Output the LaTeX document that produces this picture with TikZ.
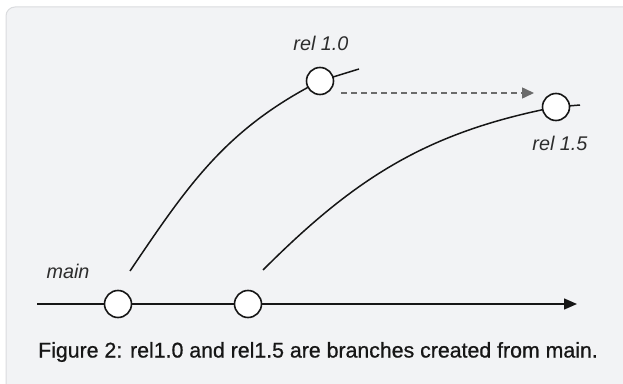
\documentclass[tikz,border=0pt]{standalone}
\usepackage{fontspec}
\setmainfont{Liberation Sans}
\newfontfamily\capfont[FakeBold=0.8]{Liberation Sans}
\usetikzlibrary{arrows.meta}
\definecolor{panelfill}{HTML}{F2F3F5}
\definecolor{panelline}{HTML}{DADBDE}
\definecolor{ink}{HTML}{161616}
\definecolor{dashgray}{HTML}{6B6B6B}
\begin{document}
\begin{tikzpicture}[x=1pt,y=1pt,
  commit/.style={circle,draw=ink,fill=white,line width=1.6pt,minimum size=27pt,inner sep=0pt},
  branchline/.style={draw=ink,line width=1.5pt},
  lbl/.style={font=\fontsize{19.8}{22}\selectfont\itshape,text=ink!90},
  caption/.style={font=\capfont\fontsize{21.3}{24}\selectfont,text=ink}]
\useasboundingbox (0,0) rectangle (623,383);
\path[fill=panelfill,draw=panelline,line width=1pt,rounded corners=9pt] (6,-10) rectangle (640,376);
% coordinates
\coordinate (ms) at (37,79);
\coordinate (me) at (577,79);
\coordinate (b1) at (130,112);
\coordinate (b2) at (263,113);
\coordinate (t1) at (359,314);
\coordinate (t2) at (580,278);
% main line
\draw[branchline,-{Triangle[length=13pt,width=11pt]}] (ms) -- (me);
% branches
\draw[branchline] (b1) to[out=56,in=207] (320,302) to[out=17,in=197] (t1);
\draw[branchline] (b2) to[out=45,in=191] (556,276) to[out=5,in=185] (t2);
% commits
\node[commit] (c1) at (118,79) {};
\node[commit] (c2) at (248,79) {};
\node[commit] (r10) at (320,302) {};
\node[commit] (r15) at (556,276) {};
% dashed arrow
\coordinate (da) at (341,290);
\coordinate (db) at (534,290);
\draw[dashgray,line width=1.5pt,dash pattern=on 6pt off 4pt,-{Triangle[length=12pt,width=11pt]}] (da) -- (db);
% labels
\node[lbl] (l10) at (321,340) {rel 1.0};
\node[lbl] (l15) at (560,240) {rel 1.5};
\node[lbl] (lmain) at (68,112) {main};
\node[caption] (cap) at (318,31) {Figure 2: rel1.0 and rel1.5 are branches created from main.};
\end{tikzpicture}
\end{document}
